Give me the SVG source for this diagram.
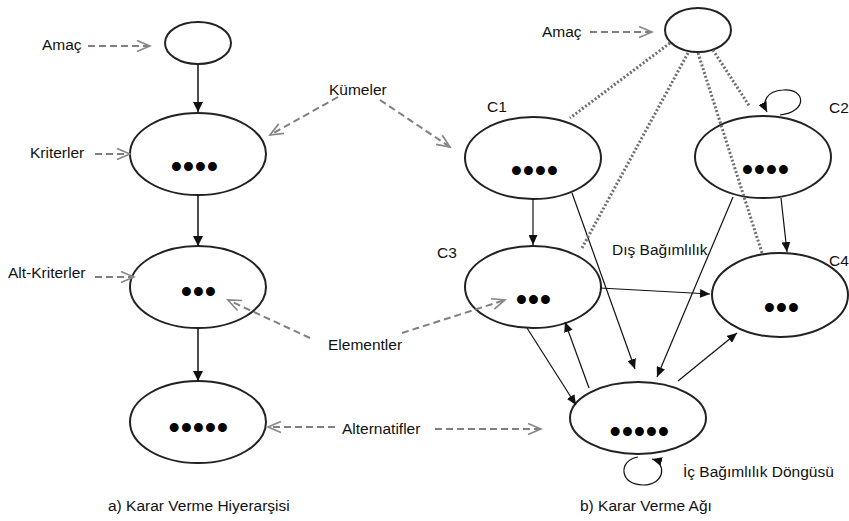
<svg xmlns="http://www.w3.org/2000/svg" width="849" height="521" viewBox="0 0 849 521">
<defs>
<style>
text{font-family:"Liberation Sans",Arial,sans-serif;font-size:15.5px;fill:#111}
.dots{font-family:"Liberation Sans",Arial,sans-serif;font-size:31px;font-weight:bold;letter-spacing:1.2px;text-anchor:middle;fill:#000}
ellipse{fill:#fff;stroke:#222;stroke-width:2}
.sl{stroke:#111;stroke-width:1.5;fill:none;marker-end:url(#ah)}
.sr{stroke:#111;stroke-width:1.2;fill:none;marker-end:url(#ahs)}
.dash{stroke:#808080;stroke-width:2;stroke-dasharray:7 4;fill:none;marker-end:url(#oa)}
.dot{stroke:#6e6e6e;stroke-width:3;stroke-dasharray:2 2;fill:none}
</style>
<marker id="ah" viewBox="0 0 10 10" refX="10" refY="5" markerWidth="10" markerHeight="10" markerUnits="userSpaceOnUse" orient="auto"><path d="M0,0 L10,5 L0,10 z" fill="#111"/></marker>
<marker id="ahs" viewBox="0 0 10 9" refX="10" refY="4.5" markerWidth="10" markerHeight="9" markerUnits="userSpaceOnUse" orient="auto"><path d="M0,0 L10,4.5 L0,9 z" fill="#111"/></marker>
<marker id="oa" viewBox="-1 -1 16 13" refX="13" refY="5.5" markerWidth="16" markerHeight="13" markerUnits="userSpaceOnUse" orient="auto"><path d="M0,0 L13,5.5 L0,11" fill="none" stroke="#888" stroke-width="1.7"/></marker>
</defs>
<rect width="849" height="521" fill="#fff"/>

<g id="goal-left"><ellipse cx="198" cy="43" rx="33" ry="21"/></g>
<g id="criteria-left"><ellipse cx="198" cy="154" rx="68" ry="41"/><text class="dots" x="195" y="177">••••</text></g>
<g id="subcriteria-left"><ellipse cx="198" cy="287" rx="68" ry="41"/><text class="dots" x="199" y="302">•••</text></g>
<g id="alternatives-left"><ellipse cx="198" cy="422" rx="68" ry="41"/><text class="dots" x="199" y="438">•••••</text></g>

<g id="goal-right"><ellipse cx="698" cy="30" rx="33" ry="22"/></g>
<g id="c1"><ellipse cx="533" cy="158" rx="68" ry="41"/><text class="dots" x="535" y="181">••••</text><text x="487" y="112">C1</text></g>
<g id="c2"><ellipse cx="763" cy="157" rx="68" ry="41"/><text class="dots" x="766" y="180">••••</text><text x="829" y="113">C2</text></g>
<g id="c3"><ellipse cx="533" cy="287" rx="68" ry="41"/><text class="dots" x="534" y="310">•••</text><text x="437" y="258">C3</text></g>
<g id="c4"><ellipse cx="780" cy="295" rx="68" ry="42"/><text class="dots" x="782" y="318">•••</text><text x="829" y="266">C4</text></g>
<g id="alternatives-right"><ellipse cx="638" cy="418" rx="68" ry="36"/><text class="dots" x="640" y="442">•••••</text></g>

<g id="connectors">
<path class="sl" d="M198,64 L198,112"/>
<path class="sl" d="M198,195 L198,246"/>
<path class="sl" d="M198,328 L198,381"/>
<path class="sr" d="M533,199 L533,245"/>
<path class="sr" d="M572,193 L635,369"/>
<path class="sr" d="M733,197 L657,377"/>
<path class="sr" d="M781,198 L787,252"/>
<path class="sr" d="M600,288 L710,294"/>
<path class="sr" d="M527,328 L576,405"/>
<path class="sr" d="M589,388 L565,322"/>
<path class="sr" d="M678,381 L737,333"/>
<path class="sr" d="M780,115 C808,112 806,88 783,90 C766,91 762,102 767,112"/>
<path class="sr" d="M638,457 C618,460 619,485 643,485 C665,485 667,463 652,459"/>
<path class="dot" d="M670,43 L570,118"/>
<path class="dot" d="M688,53 L582,248"/>
<path class="dot" d="M698,53 L762,253"/>
<path class="dot" d="M713,50 L750,107"/>
<path class="dash" d="M88,46 L150,46"/>
<path class="dash" d="M95,154 L130,154"/>
<path class="dash" d="M95,277 L134,277"/>
<path class="dash" d="M338,97 L270,135"/>
<path class="dash" d="M380,100 L450,147"/>
<path class="dash" d="M310,338 L228,300"/>
<path class="dash" d="M402,333 L505,300"/>
<path class="dash" d="M335,427 L268,427"/>
<path class="dash" d="M435,429 L541,429"/>
<path class="dash" d="M590,32 L652,32"/>
</g>

<g id="labels">
<text x="42" y="50">Amaç</text>
<text x="30" y="158">Kriterler</text>
<text x="8" y="278">Alt-Kriterler</text>
<text x="329" y="95">Kümeler</text>
<text x="328" y="350">Elementler</text>
<text x="342" y="434">Alternatifler</text>
<text x="108" y="511">a) Karar Verme Hiyerarşisi</text>
<text x="542" y="37">Amaç</text>
<text x="612" y="255">Dış Bağımlılık</text>
<text x="683" y="477">İç Bağımlılık Döngüsü</text>
<text x="580" y="511">b) Karar Verme Ağı</text>
</g>
</svg>
